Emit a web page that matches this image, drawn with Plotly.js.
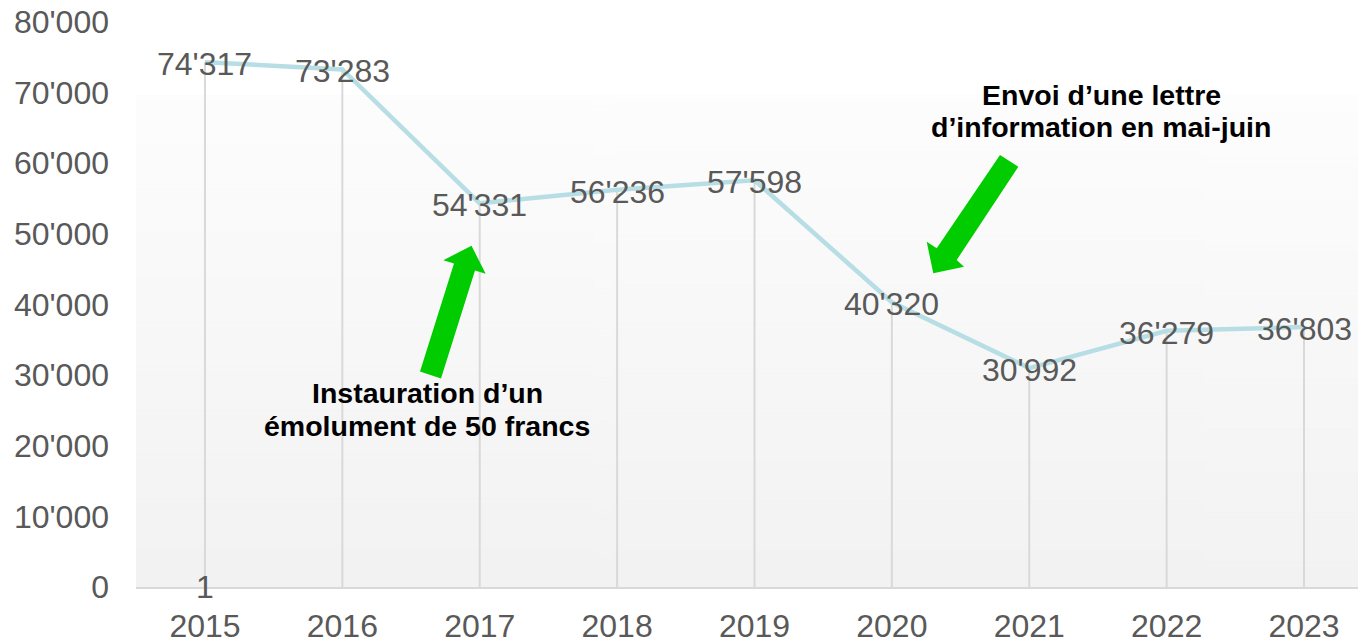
<!DOCTYPE html>
<html>
<head>
<meta charset="utf-8">
<script src="https://cdn.plot.ly/plotly-3.0.1.min.js"></script>
<style>
html,body{margin:0;padding:0;background:#fff;}
#chart{width:1358px;height:640px;}
</style>
</head>
<body>
<div id="chart"></div>
<script>
// ---- data ----
const years = ['2015','2016','2017','2018','2019','2020','2021','2022','2023'];
const counts = [74317, 73283, 54331, 56236, 57598, 40320, 30992, 36279, 36803];
const yTicks = [0, 10000, 20000, 30000, 40000, 50000, 60000, 70000, 80000];
const noteUp = ['Instauration d’un', 'émolument de 50 francs'];
const noteDown = ['Envoi d’une lettre', 'd’information en mai-juin'];
const strayLabel = '1';

// ---- layout geometry (pixels) ----
const W = 1358, H = 640;
const L = 136, R = 0, T = 22, B = 53;
const pw = W - L - R, ph = H - T - B;
const px = x => (x - L) / pw;
const py = y => (H - B - y) / ph;

const FONT = 'Liberation Sans, Arial, sans-serif';
const GREY = '#595959';
const fmt = v => String(v).replace(/\B(?=(\d{3})+(?!\d))/g, "'");

// gradient background image
function gradient() {
  const c = document.createElement('canvas');
  c.width = 4; c.height = 400;
  const g = c.getContext('2d');
  const gr = g.createLinearGradient(0, 0, 0, 400);
  gr.addColorStop(0, '#fdfdfd');
  gr.addColorStop(1, '#f2f2f2');
  g.fillStyle = gr;
  g.fillRect(0, 0, 4, 400);
  return c.toDataURL();
}

function arrowPath(pts) {
  return 'M ' + pts.map(p => px(p[0]).toFixed(5) + ',' + py(p[1]).toFixed(5)).join(' L ') + ' Z';
}
const upArrow = [[420,371.6],[454,263.6],[443.3,260.2],[471.5,245.8],[485.7,273.8],[475,270.4],[441,378.4]];
const downArrow = [[1000,155],[936.7,248.3],[926.7,241.7],[933.3,273.3],[964,266.7],[956.7,260],[1018.3,166.7]];

const traces = [
  { // drop lines
    x: years, y: counts, type: 'scatter', mode: 'markers',
    marker: {size: 1, color: 'rgba(0,0,0,0)'},
    error_y: {type: 'data', symmetric: false, array: counts.map(() => 0), arrayminus: counts,
              color: '#d9d9d9', thickness: 2, width: 0},
    hoverinfo: 'skip', showlegend: false
  },
  {
    x: years, y: counts, type: 'scatter', mode: 'lines',
    line: {color: '#b7dee4', width: 4.5},
    cliponaxis: false, showlegend: false, hoverinfo: 'skip'
  }
];

const ann = [];
// data labels (x = category index on the category axis)
years.forEach((yr, i) => ann.push({
  xref: 'x', yref: 'y', x: i, y: counts[i], text: fmt(counts[i]),
  showarrow: false, xanchor: 'center', yanchor: 'middle', yshift: -2,
  font: {family: FONT, size: 32, color: GREY}
}));
function addLines(lines, cx, ys) {
  lines.forEach((t, i) => ann.push({
    xref: 'paper', yref: 'paper', x: px(cx), y: py(ys[i]), text: '<b>' + t + '</b>',
    showarrow: false, xanchor: 'center', yanchor: 'middle',
    font: {family: FONT, size: 28.5, color: '#000'}
  }));
}
addLines(noteUp, 427, [393, 426]);
addLines(noteDown, 1101, [95, 127]);
ann.push({x: 0, y: 0, xref: 'x', yref: 'y', text: strayLabel, showarrow: false,
  xanchor: 'center', yanchor: 'middle', font: {family: FONT, size: 32, color: GREY}});

const layout = {
  width: W, height: H,
  margin: {l: L, r: R, t: T, b: B, pad: 0},
  paper_bgcolor: '#fff', plot_bgcolor: 'rgba(0,0,0,0)',
  separators: ".'",
  showlegend: false,
  xaxis: {
    type: 'category', range: [-0.502, 8.393],
    showgrid: false, zeroline: false, showline: true, linecolor: '#d9d9d9', linewidth: 2,
    ticks: '', ticklabelstandoff: 10,
    tickfont: {family: FONT, size: 32, color: GREY}
  },
  yaxis: {
    range: [0, 80000], tickvals: yTicks, tickformat: ',d',
    showgrid: false, zeroline: false, showline: false, ticks: '',
    ticklabelstandoff: 26,
    tickfont: {family: FONT, size: 32, color: GREY}
  },
  images: [{
    source: gradient(), xref: 'paper', yref: 'paper', x: 0, y: py(95),
    sizex: 1, sizey: py(95), sizing: 'stretch', xanchor: 'left', yanchor: 'top', layer: 'below'
  }],
  shapes: [
    {type: 'path', xref: 'paper', yref: 'paper', path: arrowPath(upArrow), fillcolor: '#00cc00', line: {width: 0}, layer: 'above'},
    {type: 'path', xref: 'paper', yref: 'paper', path: arrowPath(downArrow), fillcolor: '#00cc00', line: {width: 0}, layer: 'above'}
  ],
  annotations: ann
};

Plotly.newPlot('chart', traces, layout, {displayModeBar: false, staticPlot: true});
</script>
</body>
</html>
